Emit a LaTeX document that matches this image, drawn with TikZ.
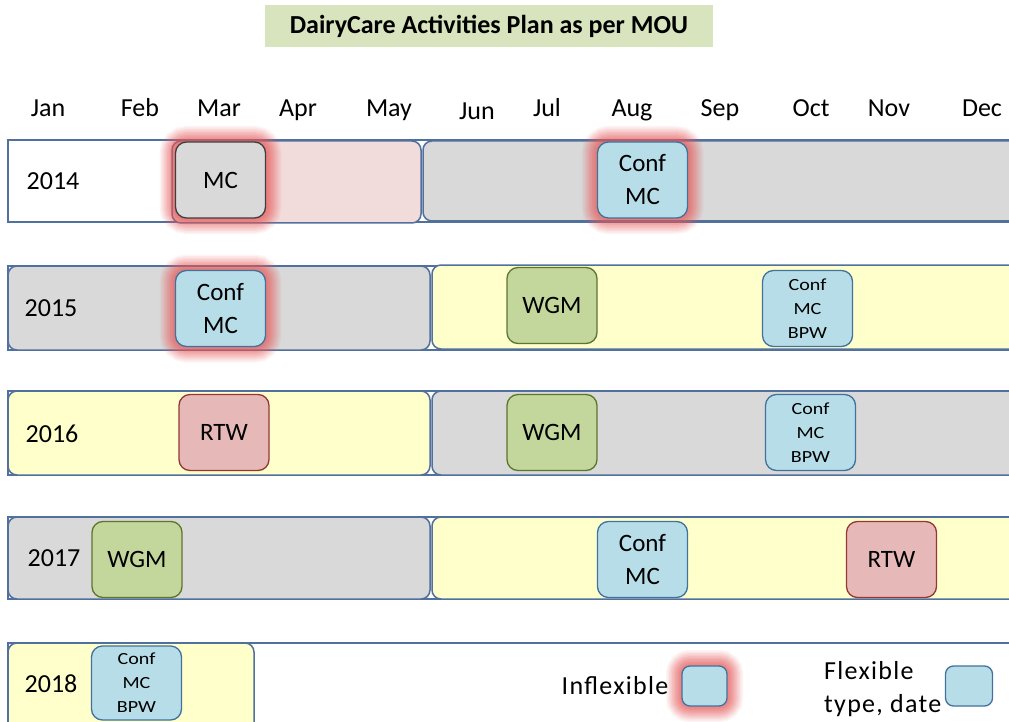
\documentclass[tikz,border=0pt]{standalone}
\usepackage{fontspec}
\setmainfont{Carlito}
\newfontfamily\widefont[FakeStretch=1.18]{Carlito}
\newfontfamily\spacedfont[LetterSpace=5]{Carlito}
\definecolor{rowblue}{HTML}{51709E}
\definecolor{greyfill}{HTML}{D9D9D9}
\definecolor{greyline}{HTML}{3F3F3F}
\definecolor{yellowfill}{HTML}{FFFFCC}
\definecolor{pinkfill}{HTML}{F2DCDB}
\definecolor{bluefill}{HTML}{B7DEE8}
\definecolor{blueline}{HTML}{41719C}
\definecolor{greenfill}{HTML}{C3D69B}
\definecolor{greenline}{HTML}{5E7530}
\definecolor{redfill}{HTML}{E6B9B8}
\definecolor{redline}{HTML}{953735}
\definecolor{titlegreen}{HTML}{D7E4BD}
\definecolor{glowc}{HTML}{E65A5A}
\begin{document}
\begin{tikzpicture}[x=1pt,y=-1pt,
  frame/.style={draw=rowblue,line width=1.5pt,fill=white},
  band/.style={draw=rowblue,line width=1.5pt,rounded corners=9pt},
  evt/.style={rounded corners=11pt,line width=1.3pt,inner sep=0pt,
    minimum width=90pt,minimum height=76pt,align=center,
    font=\fontsize{25}{33}\selectfont},
  small/.style={font=\widefont\fontsize{17}{24}\selectfont},
  conf/.style={evt,fill=bluefill,draw=blueline},
  wgm/.style={evt,fill=greenfill,draw=greenline},
  rtw/.style={evt,fill=redfill,draw=redline},
  mcbox/.style={evt,fill=greyfill,draw=greyline},
  haloed/.style={
    preaction={draw=glowc,line width=32pt,draw opacity=0.07},
    preaction={draw=glowc,line width=29pt,draw opacity=0.08},
    preaction={draw=glowc,line width=26pt,draw opacity=0.09},
    preaction={draw=glowc,line width=23pt,draw opacity=0.10},
    preaction={draw=glowc,line width=20pt,draw opacity=0.11},
    preaction={draw=glowc,line width=17pt,draw opacity=0.12},
    preaction={draw=glowc,line width=14pt,draw opacity=0.13},
    preaction={draw=glowc,line width=11pt,draw opacity=0.14},
    preaction={draw=glowc,line width=8pt,draw opacity=0.15},
    preaction={draw=glowc,line width=5pt,draw opacity=0.16}},
  lbl/.style={font=\fontsize{26}{30}\selectfont,inner sep=0pt},
  legbox/.style={fill=bluefill,draw=blueline,line width=1.3pt,rounded corners=8pt,
    inner sep=0pt,minimum width=45pt,minimum height=40pt},
]
\useasboundingbox (0,0) rectangle (1009,722);
\clip (0,0) rectangle (1009,722);

% title
\node[fill=titlegreen,minimum width=448pt,minimum height=42pt,inner sep=0pt,
  font=\bfseries\fontsize{26}{30}\selectfont] (title) at (489,26) {DairyCare Activities Plan as per MOU};

% month header
\foreach \m/\x/\b in {Jan/48/117,Feb/140/117,Mar/219/117,Apr/298/117,May/389/117,
  Jun/477/120,Jul/547/117,Aug/632/117,Sep/720/117,Oct/811/117,Nov/889/117,Dec/982/117}
  \node[lbl,anchor=base] (m\m) at (\x,\b) {\m};

% 2014
\draw[frame] (8,140) rectangle (1020,222);
\draw[band,fill=pinkfill] (172,141) rectangle (421,223);
\draw[band,fill=greyfill] (423,141) rectangle (1020,221);
% 2015
\draw[frame] (8,266) rectangle (1020,350);
\draw[band,fill=greyfill] (8,266) rectangle (430,350);
\draw[band,fill=yellowfill] (432,265) rectangle (1020,349);
% 2016
\draw[frame] (8,391) rectangle (1020,475);
\draw[band,fill=yellowfill] (8,391) rectangle (430,475);
\draw[band,fill=greyfill] (432,391) rectangle (1020,475);
% 2017
\draw[frame] (8,517) rectangle (1020,599);
\draw[band,fill=greyfill] (8,517) rectangle (430,599);
\draw[band,fill=yellowfill] (432,517) rectangle (1020,599);
% 2018
\draw[frame] (8,643) rectangle (1020,740);
\draw[band,fill=yellowfill] (8,643) rectangle (254,740);

% year labels
\node[lbl] (y2014) at (53,181) {2014};
\node[lbl] (y2015) at (51,308) {2015};
\node[lbl] (y2016) at (52,434) {2016};
\node[lbl] (y2017) at (54,558) {2017};
\node[lbl] (y2018) at (51,684) {2018};

% activities
\node[mcbox,haloed] (a14mc) at (220.5,180) {MC};
\node[conf,haloed] (a14conf) at (642.5,180) {Conf\\MC};

\node[conf,haloed] (a15conf) at (220.5,308.5) {Conf\\MC};
\node[wgm] (a15wgm) at (552,305.5) {WGM};
\node[conf,small] (a15bpw) at (807.5,308.5) {Conf\\MC\\BPW};

\node[rtw] (a16rtw) at (224,432.5) {RTW};
\node[wgm] (a16wgm) at (552,432.5) {WGM};
\node[conf,small] (a16bpw) at (810.5,432.5) {Conf\\MC\\BPW};

\node[wgm] (a17wgm) at (137,559.5) {WGM};
\node[conf] (a17conf) at (642.5,559.5) {Conf\\MC};
\node[rtw] (a17rtw) at (891.5,559.5) {RTW};

\node[conf,small,minimum height=74pt] (a18bpw) at (136.5,683) {Conf\\MC\\BPW};

% legend
\node[lbl,font=\spacedfont\fontsize{26}{30}\selectfont] (inflex) at (615,686) {Inflexible};
\node[legbox,haloed] (inflexbox) at (704.5,686) {};
\node[lbl,align=left,anchor=west,font=\spacedfont\fontsize{26}{33}\selectfont] (flex) at (824,689) {Flexible\\type, date};
\node[legbox,minimum width=47pt] (flexbox) at (969,686) {};
\end{tikzpicture}
\end{document}
